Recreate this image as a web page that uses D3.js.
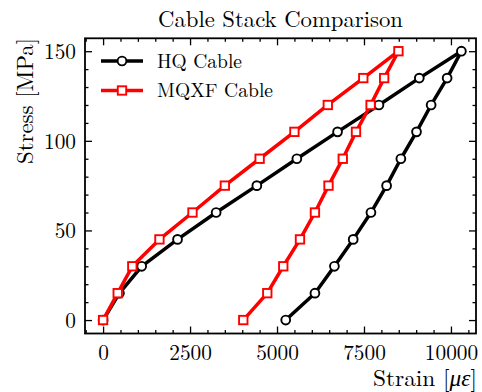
<!DOCTYPE html>
<html>
<head>
<meta charset="utf-8">
<script src="https://cdn.jsdelivr.net/npm/d3@7"></script>
<style>
  body { margin: 0; background: #fff; }
  text { font-family: "Latin Modern Roman", "Liberation Serif", serif; fill: #000; }
</style>
</head>
<body>
<div id="chart"></div>
<script>
// stress levels, loading up to 150 then unloading back to 0
const stress = [0, 15, 30, 45, 60, 75, 90, 105, 120, 135, 150, 135, 120, 105, 90, 75, 60, 45, 30, 15, 0];
const hqStrain = [0, 470, 1110, 2140, 3250, 4420, 5570, 6740, 7930, 9090, 10300,
                  9890, 9430, 9010, 8560, 8150, 7700, 7190, 6650, 6090, 5250];
const mqxfStrain = [0, 420, 840, 1620, 2570, 3500, 4500, 5500, 6460, 7480, 8490,
                    8080, 7690, 7270, 6890, 6480, 6090, 5660, 5180, 4720, 4030];
const xTicks = [0, 2500, 5000, 7500, 10000];
const yTicks = [0, 50, 100, 150];

const W = 482, H = 392;
const pLeft = 85, pRight = 476, pTop = 38.3, pBottom = 333.5;
const FONT = "'Latin Modern Roman', 'Liberation Serif', serif";
const LW = 3.5, MR = 4.4, MS = 8.4, MW = 1.9;

const svg = d3.select("#chart").append("svg")
    .attr("width", W)
    .attr("height", H);

const x = d3.scaleLinear().domain([-520, 10720]).range([pLeft, pRight]);
const y = d3.scaleLinear().domain([-7.5, 157.2]).range([pBottom, pTop]);

// ticks inside on all four sides
const minorX = d3.range(-500, 10701, 500).filter(v => v % 2500 !== 0);
const minorY = d3.range(0, 151, 10).filter(v => v % 50 !== 0);

function tickAxis(axisFn, scale, vals, size, labels) {
    return axisFn(scale).tickValues(vals).tickSizeInner(-size).tickSizeOuter(0)
        .tickFormat(labels ? d3.format("d") : "");
}

const g = svg.append("g");
const ph = pBottom - pTop, pw = pRight - pLeft;

[["major", 7], ["minor", 3.5]].forEach(([kind, len]) => {
    const xs = kind === "major" ? xTicks : minorX;
    const ys = kind === "major" ? yTicks : minorY;
    const lab = kind === "major";
    g.append("g").attr("class", "xb").attr("transform", `translate(0,${pBottom})`)
        .call(tickAxis(d3.axisBottom, x, xs, len, lab));
    g.append("g").attr("transform", `translate(0,${pTop})`)
        .call(tickAxis(d3.axisTop, x, xs, len, false));
    g.append("g").attr("class", "yl").attr("transform", `translate(${pLeft},0)`)
        .call(tickAxis(d3.axisLeft, y, ys, len, lab));
    g.append("g").attr("transform", `translate(${pRight},0)`)
        .call(tickAxis(d3.axisRight, y, ys, len, false));
});

g.selectAll("g").attr("font-family", FONT);
g.selectAll(".domain").remove();
g.selectAll(".tick line").attr("stroke", "#000").attr("stroke-width", 1.3);
g.selectAll(".tick text")
    .attr("font-size", 21.3)
    .attr("fill", "#000");
g.selectAll(".xb .tick text").attr("y", 11.5).attr("dy", "0.71em");
g.selectAll(".yl .tick text").attr("x", -9).attr("dy", "0.34em");

svg.append("rect")
    .attr("x", pLeft).attr("y", pTop)
    .attr("width", pw).attr("height", ph)
    .attr("fill", "none")
    .attr("stroke", "#000")
    .attr("stroke-width", 1.8);

const line = d3.line().x(d => x(d[0])).y(d => y(d[1]));
const hq = hqStrain.map((s, i) => [s, stress[i]]);
const mqxf = mqxfStrain.map((s, i) => [s, stress[i]]);

// HQ first, MQXF on top
svg.append("path").datum(hq)
    .attr("d", line).attr("fill", "none")
    .attr("stroke", "#000").attr("stroke-width", LW)
    .attr("stroke-linejoin", "round");
svg.selectAll(".hqpt").data(hq).enter().append("circle")
    .attr("cx", d => x(d[0])).attr("cy", d => y(d[1]))
    .attr("r", MR)
    .attr("fill", "#fff").attr("stroke", "#000").attr("stroke-width", MW);

svg.append("path").datum(mqxf)
    .attr("d", line).attr("fill", "none")
    .attr("stroke", "#ff0000").attr("stroke-width", LW)
    .attr("stroke-linejoin", "round");
svg.selectAll(".mqpt").data(mqxf).enter().append("rect")
    .attr("x", d => x(d[0]) - MS / 2).attr("y", d => y(d[1]) - MS / 2)
    .attr("width", MS).attr("height", MS)
    .attr("fill", "#fff").attr("stroke", "#ff0000").attr("stroke-width", MW);

// legend
const legend = [
    {name: "HQ Cable", color: "#000", shape: "circle", y: 61, len: 85},
    {name: "MQXF Cable", color: "#ff0000", shape: "square", y: 90.5, len: 116}
];
legend.forEach(l => {
    svg.append("line")
        .attr("x1", 101).attr("x2", 143).attr("y1", l.y).attr("y2", l.y)
        .attr("stroke", l.color).attr("stroke-width", LW);
    if (l.shape === "circle") {
        svg.append("circle").attr("cx", 122).attr("cy", l.y).attr("r", MR)
            .attr("fill", "#fff").attr("stroke", l.color).attr("stroke-width", MW);
    } else {
        svg.append("rect").attr("x", 122 - MS / 2).attr("y", l.y - MS / 2)
            .attr("width", MS).attr("height", MS)
            .attr("fill", "#fff").attr("stroke", l.color).attr("stroke-width", MW);
    }
    svg.append("text")
        .attr("x", 157).attr("y", l.y + 6.5)
        .attr("font-size", 19.5)
        .attr("textLength", l.len).attr("lengthAdjust", "spacingAndGlyphs")
        .text(l.name);
});

// title and axis labels
svg.append("text")
    .attr("x", 158).attr("y", 26.5)
    .attr("font-size", 22.7)
    .attr("textLength", 245).attr("lengthAdjust", "spacingAndGlyphs")
    .text("Cable Stack Comparison");

const xl = svg.append("text")
    .attr("x", 373).attr("y", 386)
    .attr("font-size", 22.5)
    .attr("textLength", 104).attr("lengthAdjust", "spacingAndGlyphs");
xl.append("tspan").text("Strain [");
xl.append("tspan").attr("font-style", "italic").text("με");
xl.append("tspan").text("]");

svg.append("text")
    .attr("transform", "translate(33,164) rotate(-90)")
    .attr("font-size", 22.5)
    .attr("textLength", 126).attr("lengthAdjust", "spacingAndGlyphs")
    .text("Stress [MPa]");
</script>
</body>
</html>
